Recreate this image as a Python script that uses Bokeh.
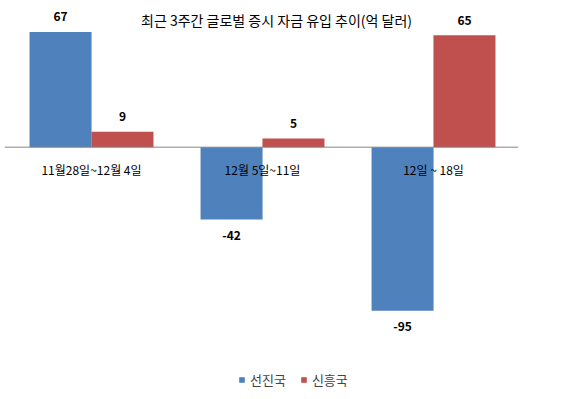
from bokeh.plotting import figure
from bokeh.models import Range1d, Span, Label, Legend, LegendItem, ColumnDataSource
from bokeh.core.properties import value
from bokeh.transform import dodge
from bokeh.embed import file_html
from bokeh.resources import INLINE

# ---- data ----
categories = ["11월28일~12월 4일", "12월 5일~11일", "12일 ~ 18일"]
advanced = [67, -42, -95]     # 선진국
emerging = [9, 5, 65]         # 신흥국
series_names = ["선진국", "신흥국"]
title_text = "최근 3주간 글로벌 증시 자금 유입 추이(억 달러)"

FONT = "Noto Sans CJK KR"
BLUE = "#4F81BD"
RED = "#C0504D"

centers = [i + 0.5 for i in range(len(categories))]

src = ColumnDataSource(dict(
    x=centers,
    cat=categories,
    adv=advanced,
    emg=emerging,
    adv_lbl=[str(v) for v in advanced],
    emg_lbl=[str(v) for v in emerging],
    adv_off=[-15 if v >= 0 else 16 for v in advanced],
    emg_off=[-15 if v >= 0 else 16 for v in emerging],
    zero=[0] * len(categories),
))

p = figure(width=575, height=391, output_backend="svg", toolbar_location=None,
           x_range=Range1d(-0.0088, 2.997), y_range=Range1d(-142.0, 80.6),
           x_axis_type=None, y_axis_type=None,
           min_border_left=4, min_border_right=57, min_border_top=8, min_border_bottom=0)
p.outline_line_color = None
p.xgrid.visible = False
p.ygrid.visible = False
p.background_fill_color = "white"
p.border_fill_color = "white"

bw = 0.3626
off = 0.181
r_adv = p.vbar(x=dodge("x", -off, range=p.x_range), top="adv", width=bw, source=src,
               fill_color=BLUE, line_color=None)
r_emg = p.vbar(x=dodge("x", off, range=p.x_range), top="emg", width=bw, source=src,
               fill_color=RED, line_color=None)

p.add_layout(Span(location=0, dimension="width", line_color="#868686", line_width=1))

# value labels
p.text(x=dodge("x", -off, range=p.x_range), y="adv", text="adv_lbl", y_offset="adv_off",
       source=src, text_font=value(FONT), text_font_style="bold", text_font_size="12px",
       text_align="center", text_baseline="middle", text_color="black")
p.text(x=dodge("x", off, range=p.x_range), y="emg", text="emg_lbl", y_offset="emg_off",
       source=src, text_font=value(FONT), text_font_style="bold", text_font_size="12px",
       text_align="center", text_baseline="middle", text_color="black")

# category labels
p.text(x="x", y="zero", text="cat", y_offset=22, source=src,
       text_font=value(FONT), text_font_size="12px", text_align="center",
       text_baseline="middle", text_color="black")

# title
p.add_layout(Label(x=1.582, y=73.7, text=title_text, text_font=FONT, text_font_size="14px",
                   text_align="center", text_baseline="middle", text_color="black"))

legend = Legend(items=[LegendItem(label=series_names[0], renderers=[r_adv]),
                       LegendItem(label=series_names[1], renderers=[r_emg])],
                orientation="horizontal", location=(234, 2),
                glyph_width=7, glyph_height=7, label_standoff=5, spacing=14,
                padding=0, margin=0, label_height=16,
                label_text_font=FONT, label_text_font_size="13px",
                border_line_color=None, background_fill_alpha=0)
p.add_layout(legend)

open("out.html", "w").write(file_html(p, INLINE))
